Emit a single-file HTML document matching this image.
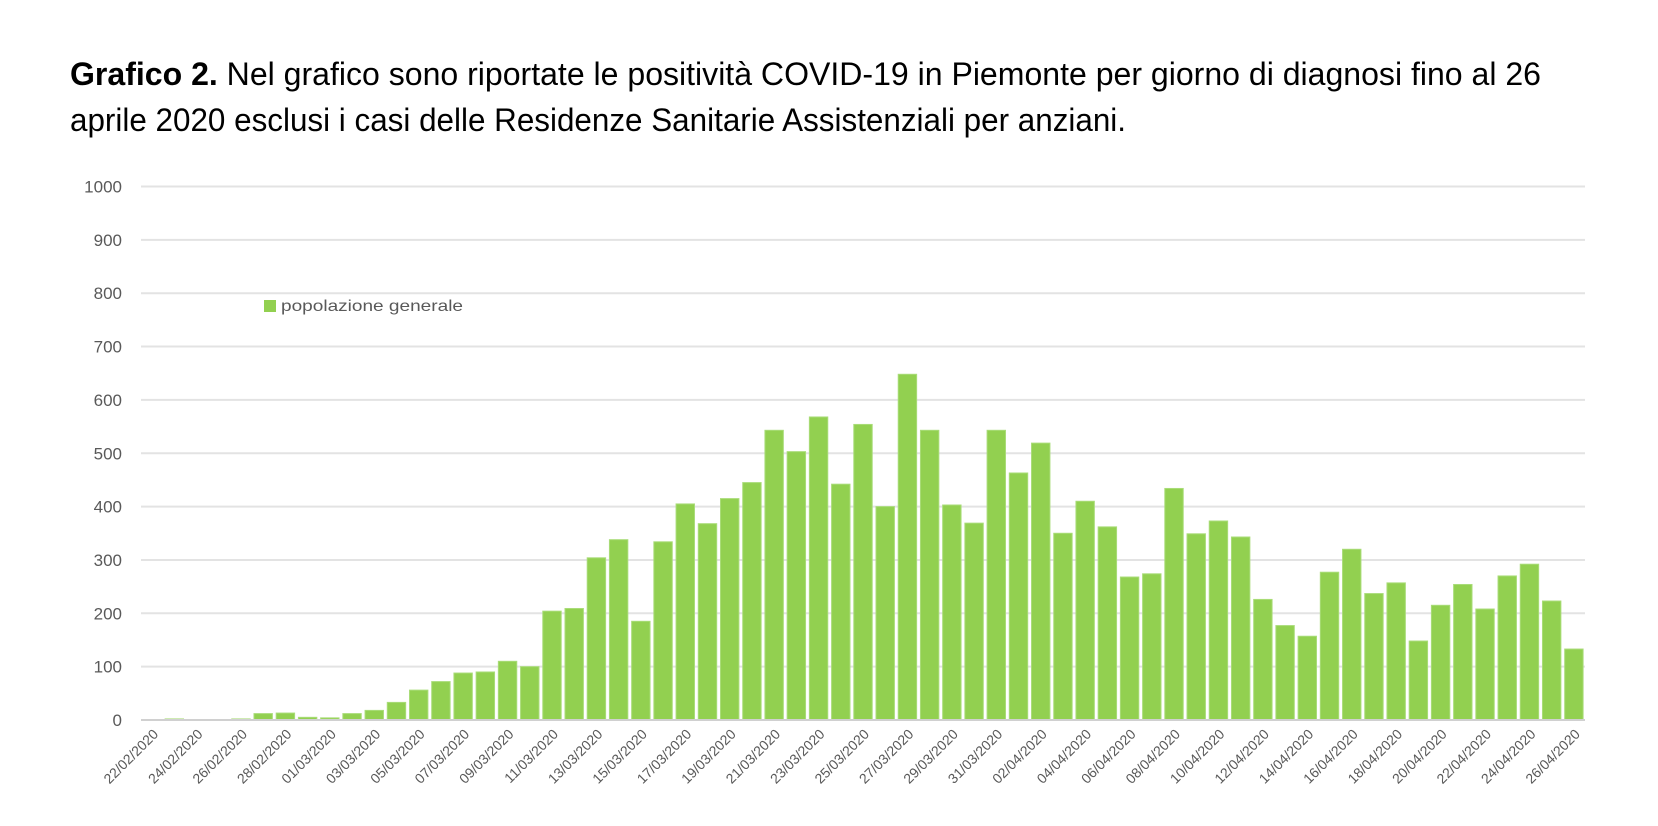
<!DOCTYPE html>
<html><head><meta charset="utf-8"><style>
html,body{margin:0;padding:0;background:#fff;}
svg{display:block;}
</style></head><body>
<svg width="1658" height="826" viewBox="0 0 1658 826" xmlns="http://www.w3.org/2000/svg" font-family="'Liberation Sans', sans-serif">
<text x="70" y="85" font-size="32" fill="#000" textLength="1471" lengthAdjust="spacingAndGlyphs"><tspan font-weight="bold">Grafico 2.</tspan> Nel grafico sono riportate le positività COVID-19 in Piemonte per giorno di diagnosi fino al 26</text>
<text x="70" y="131" font-size="32" fill="#000" textLength="1056" lengthAdjust="spacingAndGlyphs">aprile 2020 esclusi i casi delle Residenze Sanitarie Assistenziali per anziani.</text>
<g id="grid" stroke="#e3e3e3" stroke-width="2"></g>
<g id="ylab" font-size="17" fill="#595959" text-anchor="end"></g>
<g id="bars"></g>
<line x1="141" y1="720" x2="1585" y2="720" stroke="#d0d0d0" stroke-width="2"/>
<g id="xlab" font-size="14" fill="#595959" text-anchor="end"></g>
<rect x="264" y="300" width="12" height="12" fill="#92d050"/>
<text x="281" y="311" font-size="16" fill="#595959" textLength="182" lengthAdjust="spacingAndGlyphs">popolazione generale</text>
</svg>
<script>
var ns="http://www.w3.org/2000/svg";
function el(t,a,p,txt){var e=document.createElementNS(ns,t);for(var k in a)e.setAttribute(k,a[k]);if(txt!==undefined)e.textContent=txt;document.getElementById(p).appendChild(e);return e;}
var y0=720,k=0.5335;
for(var v=100;v<=1000;v+=100){var y=y0-v*k;el('line',{x1:141,x2:1585,y1:y,y2:y},'grid');}
for(var v=0;v<=1000;v+=100){el('text',{x:122,y:y0-v*k+6},'ylab',String(v));}
var d=[0,2,0,0,2,12,13,5,4,12,18,33,56,72,88,90,110,100,204,209,304,338,185,334,405,368,415,445,543,503,568,442,554,400,648,543,403,369,543,463,519,350,410,362,268,274,434,349,373,343,226,177,157,277,320,237,257,148,215,254,208,270,292,223,133];
var pitch=(1585-141)/65;
var start=new Date(2020,1,22);
for(var i=0;i<65;i++){
 var cx=141+pitch*(i+0.5);
 var h=d[i]*k;
 if(h>0){el('rect',{x:cx-9.2,y:y0-h,width:18.4,height:h,fill:'#92d050',stroke:'#a9dc78','stroke-width':1},'bars');}
 if(i%2==0){var dt=new Date(start.getTime()+i*86400000+3600000*3);
  var s=('0'+dt.getDate()).slice(-2)+'/'+('0'+(dt.getMonth()+1)).slice(-2)+'/2020';
  var ax=cx+7,ay=735;
  el('text',{x:ax,y:ay,transform:'rotate(-45 '+ax+' '+ay+')'},'xlab',s);}
}
</script>
</body></html>
